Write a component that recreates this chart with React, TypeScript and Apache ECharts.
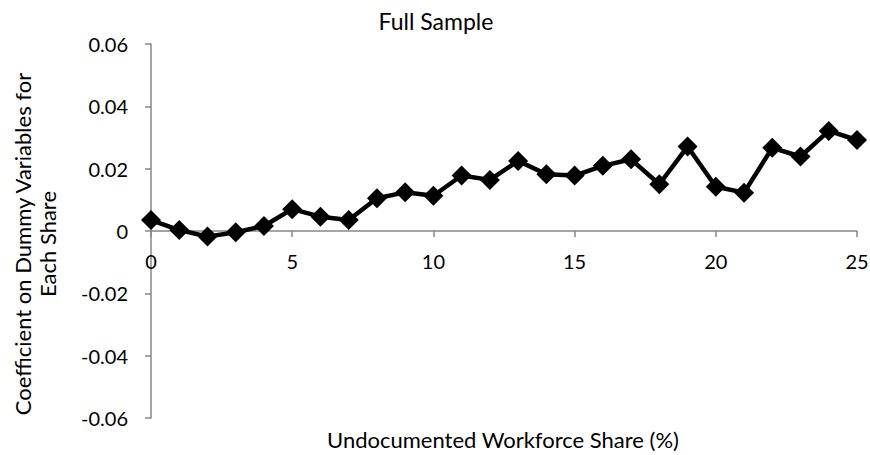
import React, { useEffect, useRef } from "react";
import * as echarts from "echarts";

const shares = [0, 1, 2, 3, 4, 5, 6, 7, 8, 9, 10, 11, 12, 13, 14, 15, 16, 17, 18, 19, 20, 21, 22, 23, 24, 25];
const coefficients = [
  0.0035, 0.0003, -0.0018, -0.0004, 0.0016, 0.0070, 0.0046, 0.0035, 0.0105, 0.0124,
  0.0113, 0.0178, 0.0164, 0.0225, 0.0182, 0.0178, 0.0209, 0.0230, 0.0150, 0.0271,
  0.0142, 0.0123, 0.0267, 0.0239, 0.0321, 0.0292,
];
const yMin = -0.06;
const yMax = 0.06;
const yStep = 0.02;
const titleText = "Full Sample";
const xName = "Undocumented Workforce Share (%)";
const yName = "Coefficient on Dummy Variables for\nEach Share";

const GRID_TOP = 44;
const GRID_BOTTOM = 37;
const HEIGHT = 455;

export default function App() {
  const ref = useRef<HTMLDivElement>(null);
  useEffect(() => {
    if (!ref.current) return;
    const chart = echarts.init(ref.current, null, { renderer: "svg" });
    const font = "Lato, 'Open Sans', sans-serif";
    const gridH = HEIGHT - GRID_TOP - GRID_BOTTOM;
    const zeroOffset = -gridH * (0 - yMin) / (yMax - yMin);
    chart.setOption({
      animation: false,
      backgroundColor: "#ffffff",
      textStyle: { fontFamily: font },
      graphic: [
        {
          type: "text",
          x: 436,
          y: 21,
          style: {
            text: titleText,
            fontFamily: font,
            fontSize: 23,
            fill: "#000",
            align: "center",
            verticalAlign: "middle",
          },
        },
        {
          type: "text",
          x: 35,
          y: 244,
          rotation: Math.PI / 2,
          style: {
            text: yName,
            fontFamily: font,
            fontSize: 22,
            fill: "#000",
            align: "center",
            verticalAlign: "middle",
            lineHeight: 25,
          },
        },
        {
          type: "text",
          x: 503,
          y: 439,
          style: {
            text: xName,
            fontFamily: font,
            fontSize: 22,
            fill: "#000",
            align: "center",
            verticalAlign: "middle",
          },
        },
      ],
      grid: { left: 151, right: 13, top: GRID_TOP, bottom: GRID_BOTTOM, containLabel: false, outerBoundsMode: "none" },
      xAxis: {
        type: "value",
        min: 0,
        max: 25,
        interval: 5,
        position: "bottom",
        offset: zeroOffset,
        axisLine: { onZero: false, lineStyle: { color: "#878787", width: 1.5 } },
        axisTick: { show: true, length: 6, lineStyle: { color: "#878787", width: 1.5 } },
        axisLabel: { fontFamily: font, fontSize: 20, color: "#000", margin: 20 },
        splitLine: { show: false },
      },
      yAxis: {
        type: "value",
        min: yMin,
        max: yMax,
        interval: yStep,
        axisLine: { show: true, onZero: false, lineStyle: { color: "#878787", width: 1.5 } },
        axisTick: { show: true, length: 6, lineStyle: { color: "#878787", width: 1.5 } },
        axisLabel: {
          fontFamily: font,
          fontSize: 20,
          color: "#000",
          margin: 23,
          formatter: (v: number) => (Math.abs(v) < 1e-9 ? "0" : v.toFixed(2)),
        },
        splitLine: { show: false },
      },
      series: [
        {
          type: "line",
          data: shares.map((s, i) => [s, coefficients[i]]),
          symbol: "diamond",
          symbolSize: 20,
          itemStyle: { color: "#000" },
          lineStyle: { color: "#000", width: 4.5 },
        },
      ],
    });
    return () => chart.dispose();
  }, []);
  return <div ref={ref} style={{ width: 870, height: 455, position: "absolute", left: 0, top: 0 }} />;
}
